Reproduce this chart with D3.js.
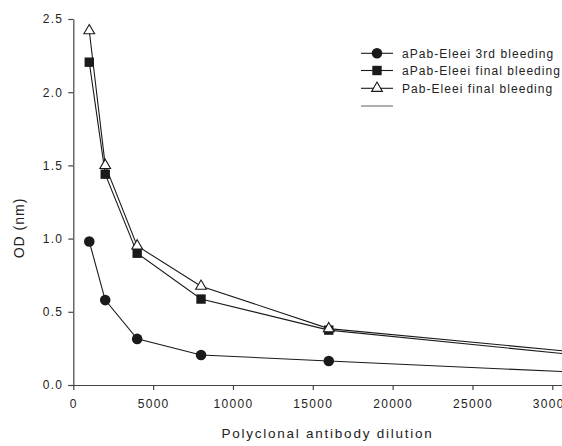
<!DOCTYPE html>
<html>
<head>
<meta charset="utf-8">
<script src="https://cdn.jsdelivr.net/npm/d3@7"></script>
<style>
  html, body { margin: 0; padding: 0; background: #fff; }
  svg { display: block; font-family: "Liberation Sans", Arial, Helvetica, sans-serif; }
</style>
</head>
<body>
<svg id="chart" width="562" height="446"></svg>
<script>
// Dilution series (x) and OD readings for each antibody preparation
const dilutions = [1000, 2000, 4000, 8000, 16000, 32000];
const thirdBleeding = [0.98, 0.58, 0.315, 0.205, 0.164, 0.085];
const finalBleeding = [2.205, 1.44, 0.90, 0.587, 0.375, 0.20];
const pabFinalBleeding = [2.42, 1.50, 0.95, 0.675, 0.385, 0.22];

const xTicks = [0, 5000, 10000, 15000, 20000, 25000, 30000];
const yTicks = [0.0, 0.5, 1.0, 1.5, 2.0, 2.5];

const seriesNames = ["aPab-Eleei 3rd bleeding", "aPab-Eleei final bleeding", "Pab-Eleei final bleeding"];

const series = [
  { name: seriesNames[0], values: thirdBleeding, symbol: "circle" },
  { name: seriesNames[1], values: finalBleeding, symbol: "square" },
  { name: seriesNames[2], values: pabFinalBleeding, symbol: "triangle" }
];

const svg = d3.select("#chart");
const ink = "#1a1a1a";

const x = d3.scaleLinear().domain([0, 30000]).range([73.3, 552.3]);
const y = d3.scaleLinear().domain([0, 2.5]).range([385, 19]);

// Axes
const xAxis = svg.append("g")
  .attr("transform", `translate(0,${y(0)})`)
  .call(d3.axisBottom(x).tickValues(xTicks).tickFormat(d3.format("d")).tickSize(5).tickPadding(9).tickSizeOuter(0));
xAxis.select(".domain").attr("d", `M${x(0) - 5},0.5H562`);

const yAxis = svg.append("g")
  .attr("transform", `translate(${x(0)},0)`)
  .call(d3.axisLeft(y).tickValues(yTicks).tickFormat(d3.format(".1f")).tickSize(5).tickPadding(5).tickSizeOuter(0));

svg.selectAll(".domain").attr("stroke", "#444").attr("stroke-width", 1.2);
svg.selectAll(".tick line").attr("stroke", "#444").attr("stroke-width", 1.2);
svg.selectAll(".tick text")
  .attr("fill", "#222")
  .style("font-size", "12px")
  .style("letter-spacing", "1.3px")
  .style("font-family", "'Liberation Sans', Arial, sans-serif");

// Axis titles
svg.append("text")
  .attr("x", 327.5).attr("y", 438)
  .attr("text-anchor", "middle")
  .attr("fill", "#222")
  .style("font-size", "13.5px")
  .style("letter-spacing", "1.75px")
  .text("Polyclonal antibody dilution");

svg.append("text")
  .attr("transform", "translate(24,228) rotate(-90)")
  .attr("text-anchor", "middle")
  .attr("fill", "#222")
  .style("font-size", "14px")
  .style("letter-spacing", "1px")
  .text("OD (nm)");

// Lines
const line = d3.line().x((d, i) => x(dilutions[i])).y(d => y(d));
const plot = svg.append("g");

series.forEach(s => {
  plot.append("path")
    .datum(s.values)
    .attr("d", line)
    .attr("fill", "none")
    .attr("stroke", ink)
    .attr("stroke-width", 1.1);
});

// Markers
const sym = {
  circle: d3.symbol().type(d3.symbolCircle).size(88),
  square: d3.symbol().type(d3.symbolSquare).size(88),
  triangle: d3.symbol().type(d3.symbolTriangle).size(50)
};

function drawMarker(g, kind, cx, cy) {
  const p = g.append("path")
    .attr("d", sym[kind]())
    .attr("transform", `translate(${cx},${cy})`);
  if (kind === "triangle") {
    p.attr("fill", "#fff").attr("stroke", ink).attr("stroke-width", 1.1);
  } else {
    p.attr("fill", ink);
  }
}

series.forEach(s => {
  s.values.forEach((v, i) => drawMarker(plot, s.symbol, x(dilutions[i]), y(v)));
});

// Legend
const legend = svg.append("g");
const rowY = [53.3, 70.5, 88.3];
series.forEach((s, i) => {
  legend.append("line")
    .attr("x1", 361).attr("x2", 393)
    .attr("y1", rowY[i]).attr("y2", rowY[i])
    .attr("stroke", ink).attr("stroke-width", 1.1);
  drawMarker(legend, s.symbol, 377, rowY[i]);
  legend.append("text")
    .attr("x", 402).attr("y", rowY[i])
    .attr("dy", "0.36em")
    .attr("fill", "#222")
    .style("font-size", "12px")
    .style("letter-spacing", "1.05px")
    .text(s.name);
});
legend.append("line")
  .attr("x1", 361).attr("x2", 393)
  .attr("y1", 106).attr("y2", 106)
  .attr("stroke", "#777").attr("stroke-width", 1.2);
</script>
</body>
</html>
